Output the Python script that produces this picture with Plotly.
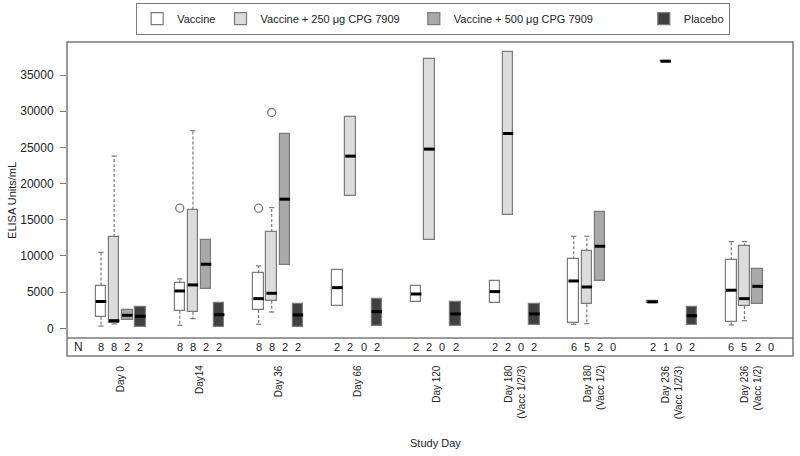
import plotly.graph_objects as go

# group labels along the x axis
days = ['Day 0', 'Day14', 'Day 36', 'Day 66', 'Day 120',
        'Day 180<br>(Vacc 1/2/3)', 'Day 180<br>(Vacc 1/2)',
        'Day 236<br>(Vacc 1/2/3)', 'Day 236<br>(Vacc 1/2)']

# box stats per day: (low whisker, q1, median, q3, high whisker), None = no subjects
vaccine = [(300, 1600, 3700, 5900, 10500), (410, 2430, 5160, 6220, 6820),
           (550, 2530, 4100, 7600, 8620), (3080, 3080, 5620, 8100, 8100),
           (3640, 3640, 4740, 5890, 5890), (3450, 3450, 5070, 6590, 6590),
           (550, 690, 6540, 9540, 12720), (3450, 3450, 3650, 3800, 3800),
           (460, 830, 5260, 9400, 11980)]
cpg250 = [(600, 780, 1050, 12600, 23800), (1330, 2300, 5990, 16400, 27300),
          (2250, 3820, 4840, 13320, 16680), (18340, 18340, 23790, 29230, 29230),
          (12260, 12260, 24760, 37200, 37200), (15710, 15710, 26920, 38170, 38170),
          (640, 3320, 5710, 10650, 12720), (36900, 36900, 36900, 36900, 36900),
          (1050, 3080, 4100, 11340, 11980)]
cpg500 = [(1150, 1150, 1800, 2570, 2570), (5480, 5480, 8850, 12170, 12170),
          (8750, 8750, 17840, 26830, 26830), None, None, None,
          (6590, 6590, 11340, 16090, 16090), None,
          (3360, 3360, 5800, 8240, 8240)]
placebo = [(220, 220, 1660, 2950, 2950), (220, 220, 1880, 3500, 3500),
           (220, 220, 1840, 3320, 3320), (360, 360, 2300, 4100, 4100),
           (320, 320, 1980, 3640, 3640), (410, 410, 1980, 3360, 3360),
           None, (460, 460, 1740, 2950, 2950), None]

# outliers: (day index, value)
vaccine_out = [(1, 16600), (2, 16600)]
cpg250_out = [(2, 29820)]

n_counts = [[8, 8, 2, 2], [8, 8, 2, 2], [8, 8, 2, 2], [2, 2, 0, 2], [2, 2, 0, 2],
            [2, 2, 0, 2], [6, 5, 2, 0], [2, 1, 0, 2], [6, 5, 2, 0]]

y_ticks = [0, 5000, 10000, 15000, 20000, 25000, 30000, 35000]

NB = '\u00a0'
groups = [
    ('Vaccine', vaccine, vaccine_out, '#ffffff'),
    ('Vaccine + 250 \u03bcg CPG 7909' + NB * 3, cpg250, cpg250_out, '#dcdcdc'),
    ('Vaccine + 500 \u03bcg CPG 7909' + NB * 15, cpg500, [], '#a9a9a9'),
    ('Placebo', placebo, [], '#404040'),
]

EDGE = '#7a7a7a'
FONT = 'Liberation Sans, Arial, sans-serif'
W = 0.8  # box width in slot units


def slot(day, k):
    # 4 boxes per day, then a gap of two slots
    return day * 6 + k


fig = go.Figure()
med_x, med_y, wh_x, wh_y, cap_x, cap_y = [], [], [], [], [], []

for k, (name, stats, outs, color) in enumerate(groups):
    xs, base, height = [], [], []
    for d, s in enumerate(stats):
        if s is None:
            continue
        lo, q1, med, q3, hi = s
        x = slot(d, k)
        xs.append(x)
        base.append(q1)
        height.append(q3 - q1)
        med_x += [x - W / 2, x + W / 2, None]
        med_y += [med, med, None]
        if hi > q3:
            wh_x += [x, x, None]
            wh_y += [q3, hi, None]
            cap_x += [x - W / 4, x + W / 4, None]
            cap_y += [hi, hi, None]
        if lo < q1:
            wh_x += [x, x, None]
            wh_y += [q1, lo, None]
            cap_x += [x - W / 4, x + W / 4, None]
            cap_y += [lo, lo, None]
    fig.add_trace(go.Bar(
        x=xs, y=height, base=base, width=W, name=name,
        marker=dict(color=color, line=dict(color=EDGE, width=1.2)),
    ))
    if outs:
        fig.add_trace(go.Scatter(
            x=[slot(d, k) for d, v in outs], y=[v for d, v in outs],
            mode='markers', showlegend=False, hoverinfo='skip',
            marker=dict(symbol='circle-open', size=8, color=EDGE, line=dict(width=1.3)),
        ))

fig.add_trace(go.Scatter(x=wh_x, y=wh_y, mode='lines', showlegend=False, hoverinfo='skip',
                         line=dict(color=EDGE, width=1.2, dash='3px,2px')))
fig.add_trace(go.Scatter(x=cap_x, y=cap_y, mode='lines', showlegend=False, hoverinfo='skip',
                         line=dict(color=EDGE, width=1.2)))
fig.add_trace(go.Scatter(x=med_x, y=med_y, mode='lines', showlegend=False, hoverinfo='skip',
                         line=dict(color='#000000', width=3)))

annotations = []
# N row
n_row_y = -9 / 296
annotations.append(dict(text='N', xref='paper', yref='paper', x=0.007, y=n_row_y,
                        xanchor='left', yanchor='middle', showarrow=False,
                        font=dict(size=12, color='#222')))
for d, counts in enumerate(n_counts):
    for k, c in enumerate(counts):
        annotations.append(dict(text=str(c), x=slot(d, k), xref='x', yref='paper', y=n_row_y,
                                yanchor='middle', showarrow=False,
                                font=dict(size=11, color='#222')))
# day labels
for d, lab in enumerate(days):
    annotations.append(dict(text=lab, x=slot(d, 1.5), xref='x', yref='paper', y=-25 / 296,
                            xanchor='center', yanchor='top', textangle=-90, align='right',
                            showarrow=False, font=dict(size=10, color='#222')))
annotations.append(dict(text='Study Day', xref='paper', yref='paper', x=0.507, y=-105 / 296,
                        yanchor='middle', showarrow=False, font=dict(size=11, color='#222')))
annotations.append(dict(text='ELISA Units/mL', xref='paper', yref='paper', x=-0.076, y=0.466,
                        xanchor='center', yanchor='middle', textangle=-90, showarrow=False,
                        font=dict(size=11, color='#222')))

fig.update_layout(
    width=800, height=456,
    margin=dict(l=67, r=7, t=42, b=118, autoexpand=False),
    plot_bgcolor='white', paper_bgcolor='white',
    barmode='overlay', bargap=0,
    font=dict(family=FONT, size=11, color='#222'),
    xaxis=dict(range=[-2.59, 52.7], showgrid=False, zeroline=False,
               showticklabels=False, ticks=''),
    yaxis=dict(range=[-1340, 39560], tickvals=y_ticks, tickformat='d', showgrid=False,
               zeroline=False, ticks='outside', ticklen=6, tickcolor=EDGE, tickwidth=1,
               ticklabelstandoff=4, tickfont=dict(size=12, color='#222')),
    legend=dict(orientation='h', x=0.095, y=1.132, xanchor='left', yanchor='top',
                bordercolor=EDGE, borderwidth=1.2, font=dict(size=11),
                itemwidth=30, traceorder='normal'),
    shapes=[
        dict(type='rect', xref='paper', yref='paper', x0=0, x1=1, y0=-18 / 296, y1=1,
             line=dict(color=EDGE, width=1.5)),
        dict(type='line', xref='paper', yref='paper', x0=0, x1=1, y0=0, y1=0,
             line=dict(color=EDGE, width=1.5)),
    ],
    annotations=annotations,
    showlegend=True,
)

# drop the default page margin so the figure sits at the window origin
fig.write_html('out.html', config={'displayModeBar': False},
               post_script="document.body.style.margin='0';")
